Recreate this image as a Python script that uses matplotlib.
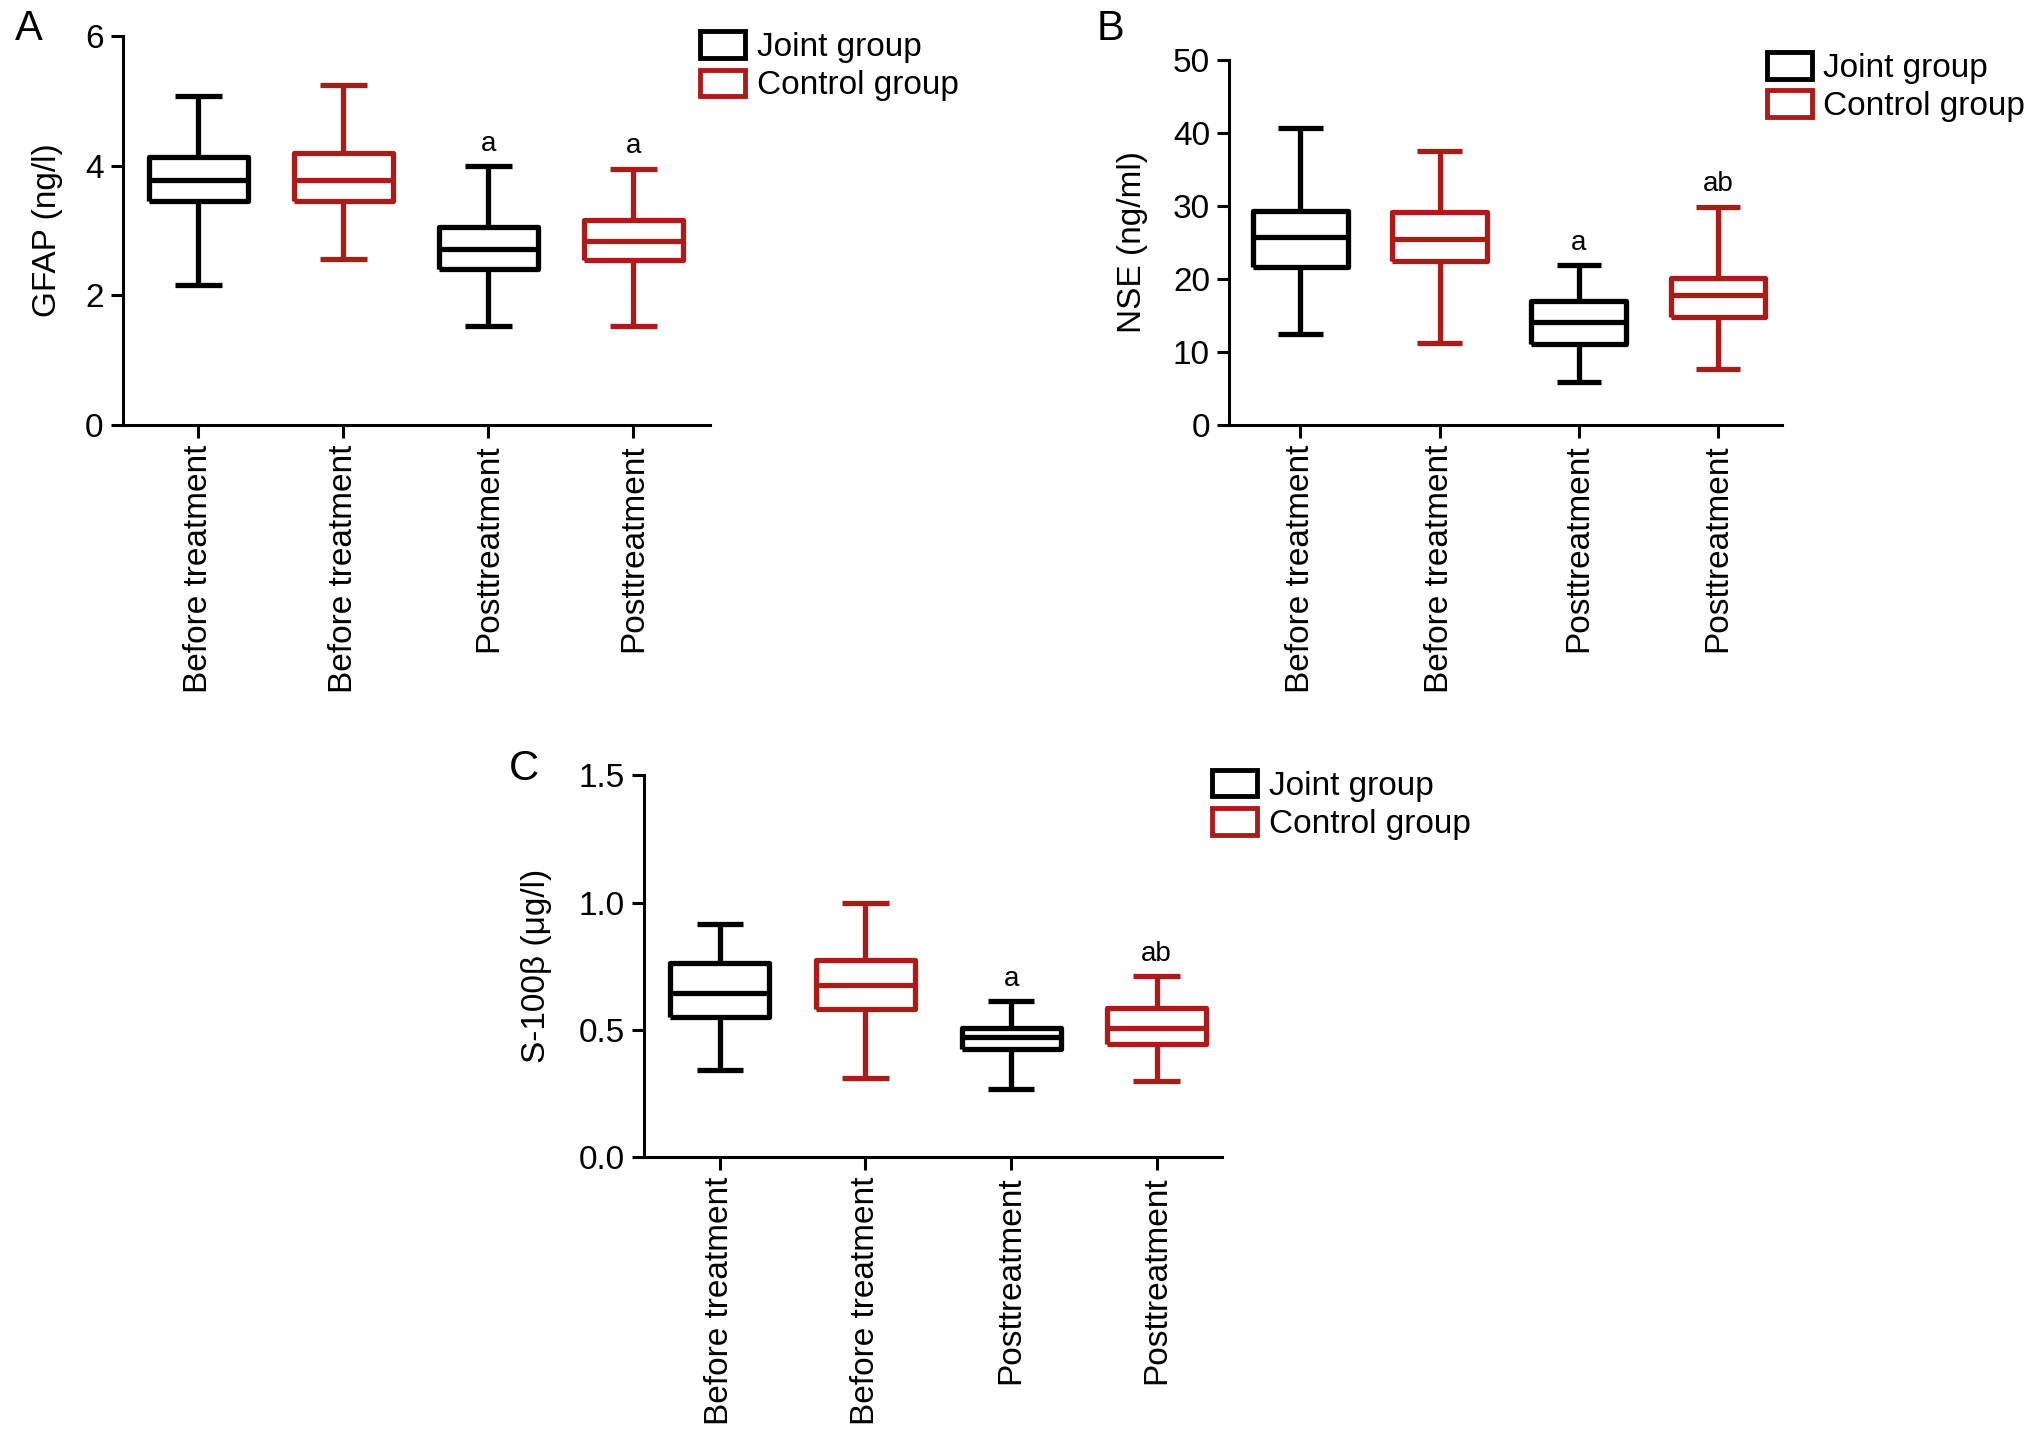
import matplotlib
matplotlib.use("Agg")
import matplotlib.pyplot as plt
from matplotlib.patches import Patch

plt.rcParams['font.family'] = ['Liberation Sans', 'DejaVu Sans']

categories = ["Before treatment", "Before treatment", "Posttreatment", "Posttreatment"]
groups = ["Joint group", "Control group", "Joint group", "Control group"]
legend_labels = ["Joint group", "Control group"]

# whisker low, Q1, median, Q3, whisker high
gfap_low = [2.16, 2.56, 1.52, 1.52]
gfap_q1 = [3.45, 3.46, 2.40, 2.55]
gfap_med = [3.78, 3.78, 2.71, 2.84]
gfap_q3 = [4.14, 4.19, 3.05, 3.16]
gfap_high = [5.08, 5.25, 3.99, 3.95]
gfap_marks = ["", "", "a", "a"]

nse_low = [12.4, 11.2, 5.8, 7.6]
nse_q1 = [21.6, 22.4, 11.0, 14.8]
nse_med = [25.7, 25.5, 14.1, 17.8]
nse_q3 = [29.3, 29.1, 17.0, 20.1]
nse_high = [40.7, 37.5, 21.9, 29.9]
nse_marks = ["", "", "a", "ab"]

s100_low = [0.342, 0.309, 0.267, 0.297]
s100_q1 = [0.55, 0.58, 0.424, 0.446]
s100_med = [0.646, 0.678, 0.472, 0.506]
s100_q3 = [0.763, 0.776, 0.509, 0.584]
s100_high = [0.916, 1.0, 0.613, 0.711]
s100_marks = ["", "", "a", "ab"]

colors = {"Joint group": "black", "Control group": "#ad1a1a"}


def draw_panel(ax, low, q1, med, q3, high, marks, ylabel, yticks, ylim, fmt, xlim, leg_anchor, lpad):
    pos = list(range(len(categories)))
    for i in pos:
        st = [dict(whislo=low[i], q1=q1[i], med=med[i], q3=q3[i], whishi=high[i], fliers=[])]
        c = colors[groups[i]]
        lp = dict(color=c, linewidth=3.8, solid_capstyle='butt')
        ax.bxp(st, positions=[i], widths=0.68, capwidths=0.32, showfliers=False,
               boxprops=lp, whiskerprops=lp, capprops=lp, medianprops=lp,
               manage_ticks=False)
        if marks[i]:
            ax.text(i, high[i] + (ylim[1] - ylim[0]) * 0.025, marks[i], ha='center', va='bottom', fontsize=20)
    ax.set_xticks(pos)
    ax.set_xticklabels(categories, rotation=90, fontsize=24)
    ax.set_xlim(*xlim)
    ax.set_ylim(*ylim)
    ax.set_yticks(yticks)
    ax.set_yticklabels([fmt.format(t) for t in yticks], fontsize=24)
    ax.set_ylabel(ylabel, fontsize=24, labelpad=lpad)
    for s in ['top', 'right']:
        ax.spines[s].set_visible(False)
    for s in ['left', 'bottom']:
        ax.spines[s].set_linewidth(2.2)
    ax.tick_params(width=2.2, length=9, direction='out', pad=5)
    handles = [Patch(facecolor='white', edgecolor=colors[g], linewidth=3.5) for g in legend_labels]
    ax.legend(handles, legend_labels, loc='upper left', bbox_to_anchor=leg_anchor, frameon=False,
              fontsize=24, handlelength=1.35, handleheight=0.85, handletextpad=0.35,
              labelspacing=0.2, borderaxespad=0)


fig = plt.figure(figsize=(20.32, 14.4), dpi=100)
axA = fig.add_axes([0.0605, 0.705, 0.289, 0.270])
axB = fig.add_axes([0.605, 0.705, 0.272, 0.2535])
axC = fig.add_axes([0.317, 0.1965, 0.2845, 0.265])

draw_panel(axA, gfap_low, gfap_q1, gfap_med, gfap_q3, gfap_high, gfap_marks,
           "GFAP (ng/l)", [0, 2, 4, 6], (0, 6), "{:g}", (-0.52, 3.53), (0.96, 1.047), 16)
draw_panel(axB, nse_low, nse_q1, nse_med, nse_q3, nse_high, nse_marks,
           "NSE (ng/ml)", [0, 10, 20, 30, 40, 50], (0, 50), "{:g}", (-0.51, 3.46), (0.948, 1.058), 18)
draw_panel(axC, s100_low, s100_q1, s100_med, s100_q3, s100_high, s100_marks,
           "S-100β (μg/l)", [0.0, 0.5, 1.0, 1.5], (0, 1.5), "{:.1f}", (-0.52, 3.45), (0.96, 1.05), 19)

fig.text(0.014, 0.980, "A", fontsize=30, ha='center', va='center')
fig.text(0.5466, 0.980, "B", fontsize=30, ha='center', va='center')
fig.text(0.258, 0.466, "C", fontsize=30, ha='center', va='center')

fig.savefig("out.png", dpi=100)
